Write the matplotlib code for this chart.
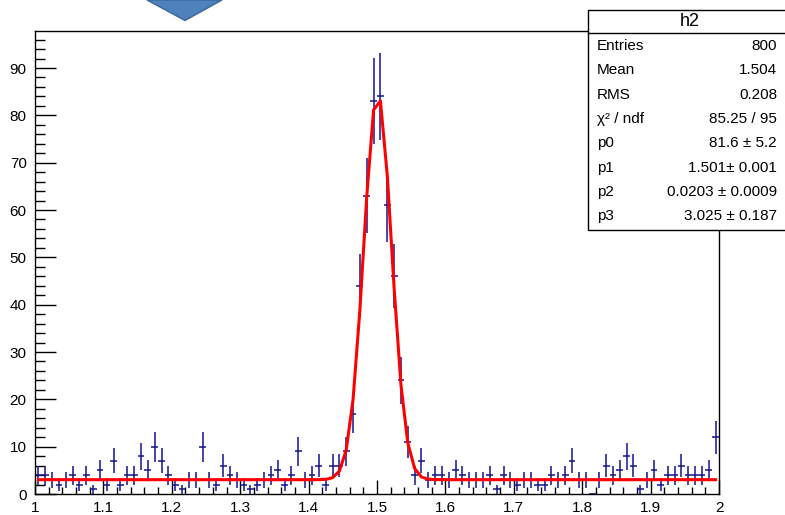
"""Histogram h2 with gaussian + constant fit, ROOT style."""

import numpy as np
import matplotlib.pyplot as plt
from matplotlib.patches import Rectangle, Polygon
from matplotlib.ticker import MultipleLocator

plt.rcParams['font.family'] = ['Liberation Sans', 'DejaVu Sans']

# histogram h2: 100 bins between 1 and 2
x_min, x_max, n_bins = 1.0, 2.0, 100
counts = [
    4, 4, 3, 2, 3, 4, 2, 4, 1, 5, 2, 7, 2, 4, 4, 8, 5, 10, 7, 4,
    2, 1, 3, 3, 10, 3, 2, 6, 4, 3, 2, 1, 2, 3, 4, 5, 2, 4, 9, 3,
    4, 6, 2, 6, 6, 9, 17, 44, 63, 83, 84, 61, 46, 24, 11, 4, 7, 3, 4, 4,
    3, 5, 4, 3, 3, 3, 4, 1, 4, 3, 2, 3, 3, 2, 2, 4, 3, 4, 7, 3,
    3, 0, 3, 6, 4, 5, 8, 6, 1, 3, 5, 2, 4, 4, 6, 4, 4, 4, 5, 12,
]

# fit parameters (gaus + pol0)
fit_params = [81.6, 1.501, 0.0203, 3.025]

stat_labels = ["Entries", "Mean", "RMS", "\u03c7\u00b2 / ndf", "p0", "p1", "p2", "p3"]
stat_values = ["800", "1.504", "0.208", "85.25 / 95", "81.6 \u00b1 5.2",
               "1.501\u00b1 0.001", "0.0203 \u00b1 0.0009", "3.025 \u00b1 0.187"]

W, H = 785, 515
fig = plt.figure(figsize=(W / 100, H / 100), dpi=100)
ax = fig.add_axes([35 / W, 21 / H, 684 / W, 463 / H])

counts = np.array(counts, dtype=float)
edges = np.linspace(x_min, x_max, n_bins + 1)
centers = 0.5 * (edges[:-1] + edges[1:])
half_w = 0.5 * (edges[1] - edges[0])
errors = np.sqrt(counts)

ax.errorbar(centers, counts, xerr=half_w, yerr=errors, fmt='none',
            ecolor='#14148f', elinewidth=1.1, capsize=0, zorder=2)

p0, p1, p2, p3 = fit_params
xf = np.linspace(centers[0], centers[-1], 100)
yf = p0 * np.exp(-0.5 * ((xf - p1) / p2) ** 2) + p3
ax.plot(xf, yf, color='#ff0000', lw=2.2, zorder=3)

ymax = 1.05 * np.max(counts + errors)
ax.set_xlim(x_min, x_max)
ax.set_ylim(0, ymax)

ax.xaxis.set_major_locator(MultipleLocator(0.1))
ax.xaxis.set_minor_locator(MultipleLocator(0.02))
ax.yaxis.set_major_locator(MultipleLocator(10))
ax.yaxis.set_minor_locator(MultipleLocator(2))
ax.set_xticklabels([])
ax.set_xticks(np.arange(1.0, 2.01, 0.1))
ax.set_xticklabels(["1", "1.1", "1.2", "1.3", "1.4", "1.5", "1.6", "1.7", "1.8", "1.9", "2"])

ax.tick_params(axis='x', which='major', direction='in', length=10, width=1, pad=5, labelsize=11)
ax.tick_params(axis='x', which='minor', direction='in', length=5, width=1)
ax.tick_params(axis='y', which='major', direction='in', length=15, width=1, pad=6, labelsize=11)
ax.tick_params(axis='y', which='minor', direction='in', length=7.5, width=1)
for s in ax.spines.values():
    s.set_linewidth(1)
    s.set_color('black')

# stats box
bx0, by_top, by_bot, sep = 588, 10, 230, 33
fig.add_artist(Rectangle((bx0 / W, 1 - by_bot / H), (W + 2 - bx0) / W, (by_bot - by_top) / H,
                         transform=fig.transFigure, facecolor='white', edgecolor='black',
                         lw=1, zorder=10))
fig.add_artist(plt.Line2D([bx0 / W, 1], [1 - sep / H, 1 - sep / H],
                          transform=fig.transFigure, color='black', lw=1, zorder=11))
fig.text(690 / W, 1 - 21.5 / H, "h2", ha='center', va='center', fontsize=13, zorder=12)
for i, (lab, val) in enumerate(zip(stat_labels, stat_values)):
    yy = 1 - (46 + 24.3 * i) / H
    fig.text(597 / W, yy, lab, ha='left', va='center', fontsize=11, zorder=12)
    fig.text(777 / W, yy, val, ha='right', va='center', fontsize=11, zorder=12)

# blue arrow shape at the top
fig.add_artist(Polygon([(147 / W, 1.0), (222 / W, 1.0), (185 / W, 1 - 20.5 / H)],
                       closed=True, transform=fig.transFigure,
                       facecolor='#4f81bd', edgecolor='#3a679b', lw=1, zorder=12))

fig.savefig("out.png", dpi=100)
